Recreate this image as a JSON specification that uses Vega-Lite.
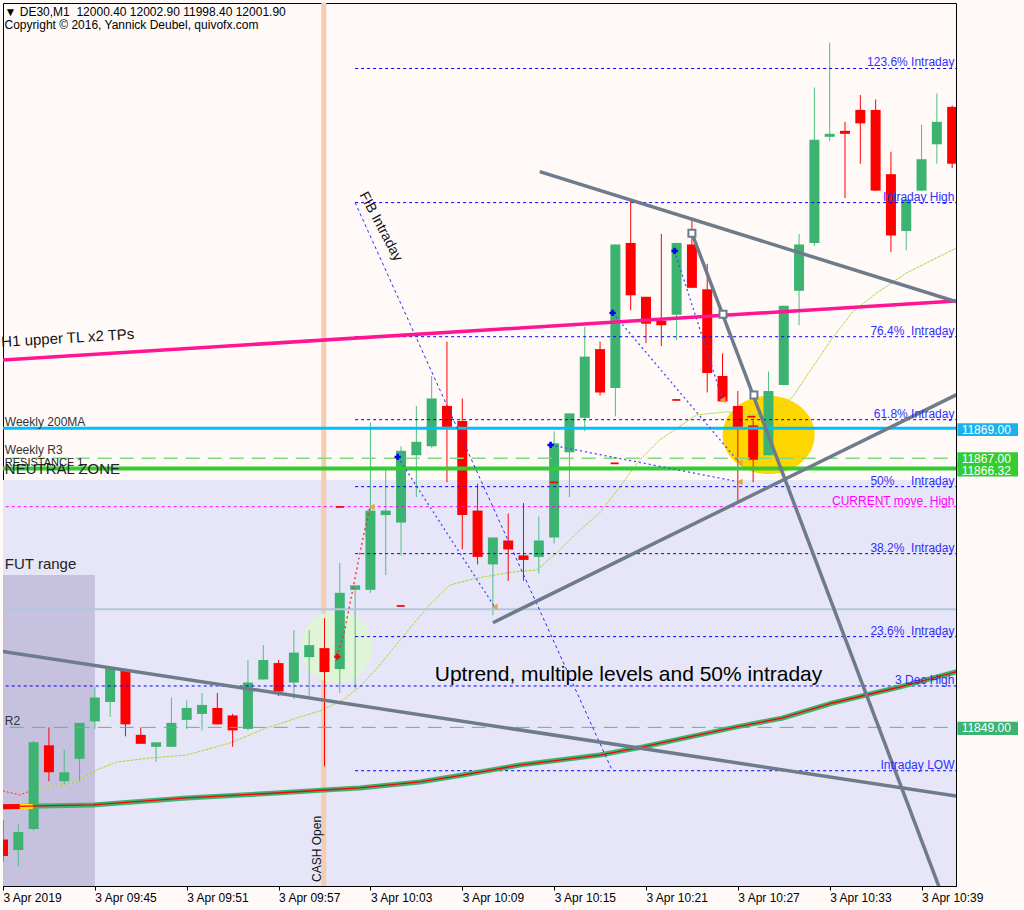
{
  "$schema": "https://vega.github.io/schema/vega-lite/v6.json",
  "width": 953,
  "height": 883,
  "autosize": {"type": "none"},
  "padding": {"left": 3, "top": 3, "right": 68, "bottom": 24},
  "background": "#FFFAF8",
  "config": {
    "view": {"stroke": "#000000", "strokeWidth": 1, "fill": "#FFFAF8"},
    "font": "Liberation Sans",
    "axis": {"labelFont": "Liberation Sans", "labelFontSize": 12, "labelColor": "#000000", "domainColor": "#000000", "tickColor": "#000000", "grid": false, "title": null}
  },
  "datasets": {
    "bg": [{"t": -1, "t2": 64, "p": 11830, "p2": 11865.55}],
    "fut": [{"t": -1, "t2": 6, "p": 11830, "p2": 11859.19}],
    "cash": [{"t": 20.95, "p": 11830, "p2": 11900}],
    "circ": [
      {"k": "g", "t": 21.8, "p": 11854.38},
      {"k": "y", "t": 50.01, "p": 11868.56}
    ],
    "candles": [
      {"t": 0, "o": 11841.5, "h": 11842.8, "l": 11840.0, "c": 11840.4},
      {"t": 1, "o": 11840.8, "h": 11842.5, "l": 11839.7, "c": 11842.0},
      {"t": 2, "o": 11842.2, "h": 11848.1, "l": 11842.1, "c": 11848.0},
      {"t": 3, "o": 11847.8, "h": 11849.0, "l": 11845.4, "c": 11846.0},
      {"t": 4, "o": 11845.4, "h": 11847.5, "l": 11845.2, "c": 11846.0},
      {"t": 5, "o": 11846.9, "h": 11849.3, "l": 11845.4, "c": 11849.3},
      {"t": 6, "o": 11849.4, "h": 11851.7, "l": 11848.9, "c": 11851.0},
      {"t": 7, "o": 11850.7, "h": 11853.0, "l": 11849.7, "c": 11853.0},
      {"t": 8, "o": 11852.8, "h": 11852.8, "l": 11848.4, "c": 11849.2},
      {"t": 9, "o": 11848.5, "h": 11849.0, "l": 11847.9, "c": 11847.9},
      {"t": 10, "o": 11847.7, "h": 11848.0, "l": 11846.7, "c": 11848.0},
      {"t": 11, "o": 11847.7, "h": 11851.0, "l": 11847.7, "c": 11849.3},
      {"t": 12, "o": 11849.5, "h": 11850.8, "l": 11848.9, "c": 11850.3},
      {"t": 13, "o": 11849.9, "h": 11851.3, "l": 11848.8, "c": 11850.5},
      {"t": 14, "o": 11850.3, "h": 11851.3, "l": 11849.2, "c": 11849.2},
      {"t": 15, "o": 11849.8, "h": 11849.9, "l": 11847.7, "c": 11848.8},
      {"t": 16, "o": 11848.9, "h": 11853.5, "l": 11848.8, "c": 11852.0},
      {"t": 17, "o": 11852.2, "h": 11854.5, "l": 11852.2, "c": 11853.5},
      {"t": 18, "o": 11853.3, "h": 11853.5, "l": 11851.1, "c": 11851.4},
      {"t": 19, "o": 11852.0, "h": 11855.5, "l": 11850.9, "c": 11854.0},
      {"t": 20, "o": 11853.7, "h": 11855.5, "l": 11851.1, "c": 11854.5},
      {"t": 21, "o": 11854.3, "h": 11856.3, "l": 11846.4, "c": 11852.7},
      {"t": 22, "o": 11852.9, "h": 11860.0, "l": 11851.3, "c": 11858.0},
      {"t": 23, "o": 11858.2, "h": 11858.5, "l": 11851.6, "c": 11858.5},
      {"t": 24, "o": 11858.2, "h": 11869.4, "l": 11858.0, "c": 11863.5},
      {"t": 25, "o": 11863.2, "h": 11866.4, "l": 11859.2, "c": 11863.5},
      {"t": 26, "o": 11862.7, "h": 11867.8, "l": 11860.5, "c": 11867.5},
      {"t": 27, "o": 11867.2, "h": 11870.5, "l": 11864.4, "c": 11868.1},
      {"t": 28, "o": 11867.8, "h": 11872.5, "l": 11867.7, "c": 11871.0},
      {"t": 29, "o": 11870.5, "h": 11874.8, "l": 11865.4, "c": 11869.1},
      {"t": 30, "o": 11869.5, "h": 11871.0, "l": 11860.9, "c": 11863.2},
      {"t": 31, "o": 11863.5, "h": 11865.3, "l": 11859.9, "c": 11860.4},
      {"t": 32, "o": 11859.9, "h": 11861.7, "l": 11856.5, "c": 11861.7},
      {"t": 33, "o": 11861.5, "h": 11863.3, "l": 11858.8, "c": 11860.9},
      {"t": 34, "o": 11860.5, "h": 11864.0, "l": 11858.8, "c": 11860.2},
      {"t": 35, "o": 11860.4, "h": 11863.1, "l": 11859.3, "c": 11861.5},
      {"t": 36, "o": 11861.7, "h": 11868.8, "l": 11861.3, "c": 11868.0},
      {"t": 37, "o": 11867.4, "h": 11870.0, "l": 11864.4, "c": 11870.0},
      {"t": 38, "o": 11869.7, "h": 11875.8, "l": 11868.8, "c": 11873.8},
      {"t": 39, "o": 11874.3, "h": 11874.8, "l": 11871.2, "c": 11871.4},
      {"t": 40, "o": 11871.7, "h": 11881.3, "l": 11869.8, "c": 11881.3},
      {"t": 41, "o": 11881.4, "h": 11884.3, "l": 11876.9, "c": 11877.9},
      {"t": 42, "o": 11877.8, "h": 11877.8, "l": 11874.7, "c": 11876.0},
      {"t": 43, "o": 11876.2, "h": 11882.0, "l": 11874.5, "c": 11875.9},
      {"t": 44, "o": 11876.6, "h": 11881.4, "l": 11874.9, "c": 11881.4},
      {"t": 45, "o": 11881.3, "h": 11883.0, "l": 11878.4, "c": 11878.4},
      {"t": 46, "o": 11878.3, "h": 11880.0, "l": 11871.4, "c": 11872.7},
      {"t": 47, "o": 11872.5, "h": 11874.0, "l": 11870.8, "c": 11870.8},
      {"t": 48, "o": 11870.5, "h": 11871.5, "l": 11864.0, "c": 11869.1},
      {"t": 49, "o": 11869.2, "h": 11869.5, "l": 11865.4, "c": 11866.9},
      {"t": 50, "o": 11867.2, "h": 11872.8, "l": 11867.2, "c": 11871.5},
      {"t": 51, "o": 11871.9, "h": 11877.2, "l": 11871.9, "c": 11877.2},
      {"t": 52, "o": 11878.2, "h": 11882.0, "l": 11875.9, "c": 11881.3},
      {"t": 53, "o": 11881.4, "h": 11891.8, "l": 11881.2, "c": 11888.3},
      {"t": 54, "o": 11888.5, "h": 11894.8, "l": 11888.2, "c": 11888.7},
      {"t": 55, "o": 11888.9, "h": 11889.5, "l": 11884.4, "c": 11888.7},
      {"t": 56, "o": 11890.3, "h": 11891.3, "l": 11886.7, "c": 11889.4},
      {"t": 57, "o": 11890.3, "h": 11891.0, "l": 11884.9, "c": 11884.9},
      {"t": 58, "o": 11886.0, "h": 11887.5, "l": 11880.8, "c": 11881.9},
      {"t": 59, "o": 11882.2, "h": 11884.3, "l": 11880.9, "c": 11884.3},
      {"t": 60, "o": 11884.9, "h": 11889.3, "l": 11884.9, "c": 11887.0},
      {"t": 61, "o": 11888.0, "h": 11891.4, "l": 11886.7, "c": 11889.5},
      {"t": 62, "o": 11890.5, "h": 11890.6, "l": 11886.4, "c": 11886.7}
    ],
    "hl": [
      {"k": "steel", "t": -1, "t2": 64, "p": 11856.90},
      {"k": "r2", "t": -1, "t2": 64, "p": 11849.00},
      {"k": "dec", "t": -1, "t2": 64, "p": 11851.77},
      {"k": "cur", "t": -1, "t2": 64, "p": 11863.76},
      {"k": "r3", "t": -1, "t2": 64, "p": 11867.00},
      {"k": "w200", "t": -1, "t2": 64, "p": 11869.00},
      {"k": "neutral", "t": -1, "t2": 64, "p": 11866.32}
    ],
    "fib": [
      {"t": 23, "t2": 64, "p": 11893.07},
      {"t": 23, "t2": 64, "p": 11884.10},
      {"t": 23, "t2": 64, "p": 11875.13},
      {"t": 23, "t2": 64, "p": 11869.58},
      {"t": 23, "t2": 64, "p": 11865.10},
      {"t": 23, "t2": 64, "p": 11860.62},
      {"t": 23, "t2": 64, "p": 11855.07},
      {"t": 23, "t2": 64, "p": 11846.10}
    ],
    "flab": [
      {"k": "b", "t": 62.15, "p": 11893.07, "label": "123.6% Intraday"},
      {"k": "b", "t": 62.15, "p": 11884.10, "label": "Intraday High"},
      {"k": "b", "t": 62.15, "p": 11875.13, "label": "76.4%\u00a0\u00a0Intraday"},
      {"k": "b", "t": 62.15, "p": 11869.58, "label": "61.8%\u00a0Intraday"},
      {"k": "b", "t": 62.15, "p": 11865.10, "label": "50%\u00a0\u00a0\u00a0\u00a0\u00a0Intraday"},
      {"k": "b", "t": 62.15, "p": 11860.62, "label": "38.2%\u00a0\u00a0Intraday"},
      {"k": "b", "t": 62.15, "p": 11855.07, "label": "23.6%\u00a0\u00a0Intraday"},
      {"k": "b", "t": 62.15, "p": 11851.77, "label": "3 Dec High"},
      {"k": "b", "t": 62.15, "p": 11846.10, "label": "Intraday LOW"},
      {"k": "m", "t": 62.15, "p": 11863.76, "label": "CURRENT move\u00a0\u00a0High"}
    ],
    "maslow": [
      {"t": -0.3, "p": 11843.69}, {"t": 5.86, "p": 11843.81}, {"t": 12.0, "p": 11844.28},
      {"t": 17.88, "p": 11844.61}, {"t": 21.0, "p": 11844.81}, {"t": 23.3, "p": 11844.95},
      {"t": 27.22, "p": 11845.35}, {"t": 30.03, "p": 11845.81}, {"t": 33.75, "p": 11846.48},
      {"t": 38.97, "p": 11847.15}, {"t": 41.78, "p": 11847.69}, {"t": 47.92, "p": 11849.03},
      {"t": 50.93, "p": 11849.63}, {"t": 54.19, "p": 11850.63}, {"t": 58.56, "p": 11851.70},
      {"t": 62.4, "p": 11852.75}
    ],
    "maslowred": [{"t": -0.3, "p": 11843.69}, {"t": 1.1, "p": 11843.70}],
    "maslowyel": [{"t": 1.1, "p": 11843.70}, {"t": 1.95, "p": 11843.71}],
    "mafastred": [{"t": 0, "p": 11844.75}, {"t": 1.09, "p": 11844.48}, {"t": 1.94, "p": 11844.81}],
    "mafast": [
      {"t": 1.94, "p": 11844.81},
      {"t": 4.82, "p": 11845.35}, {"t": 6.12, "p": 11846.15}, {"t": 7.43, "p": 11846.68},
      {"t": 9.58, "p": 11846.95}, {"t": 12.0, "p": 11847.15}, {"t": 14.81, "p": 11847.95},
      {"t": 17.22, "p": 11848.96}, {"t": 19.38, "p": 11849.69}, {"t": 20.88, "p": 11850.16},
      {"t": 22.19, "p": 11850.83}, {"t": 23.3, "p": 11851.70}, {"t": 24.6, "p": 11853.17},
      {"t": 26.1, "p": 11855.04}, {"t": 27.67, "p": 11856.98}, {"t": 29.18, "p": 11858.52},
      {"t": 30.94, "p": 11858.99}, {"t": 33.29, "p": 11859.39}, {"t": 34.86, "p": 11859.53},
      {"t": 36.17, "p": 11860.67}, {"t": 37.47, "p": 11862.00}, {"t": 38.97, "p": 11863.34},
      {"t": 40.28, "p": 11865.08}, {"t": 41.59, "p": 11866.89}, {"t": 42.89, "p": 11868.22},
      {"t": 45.31, "p": 11869.90}, {"t": 47.27, "p": 11870.10}, {"t": 48.97, "p": 11869.90},
      {"t": 50.27, "p": 11870.03}, {"t": 51.58, "p": 11871.10}, {"t": 52.89, "p": 11873.11},
      {"t": 54.19, "p": 11875.05}, {"t": 55.5, "p": 11876.79}, {"t": 57.07, "p": 11878.06},
      {"t": 59.03, "p": 11879.40}, {"t": 62.29, "p": 11881.07}
    ],
    "tl": [
      {"id": "A", "t": -0.3, "p": 11854.12}, {"id": "A", "t": 62.4, "p": 11844.38},
      {"id": "B", "t": 35.06, "p": 11886.17}, {"id": "B", "t": 62.4, "p": 11877.43},
      {"id": "C", "t": 32.0, "p": 11856.0}, {"id": "C", "t": 62.49, "p": 11871.35},
      {"id": "D", "t": 45.0, "p": 11882.05}, {"id": "D", "t": 61.2, "p": 11838.18}
    ],
    "h1": [
      {"t": -0.3, "p": 11873.56}, {"t": 62.4, "p": 11877.53}
    ],
    "dots": [
      {"id": "L1", "t": 25.78, "p": 11867.09}, {"id": "L1", "t": 32.12, "p": 11857.05},
      {"id": "L3", "t": 35.77, "p": 11867.89}, {"id": "L3", "t": 48.12, "p": 11865.41},
      {"id": "L4", "t": 39.82, "p": 11876.72}, {"id": "L4", "t": 48.12, "p": 11866.68},
      {"id": "L5", "t": 43.87, "p": 11880.87}, {"id": "L5", "t": 47.01, "p": 11870.90}
    ],
    "fibdiag": [
      {"t": 23.0, "p": 11884.10}, {"t": 39.8, "p": 11846.10}
    ],
    "reddot": [
      {"t": 21.80, "p": 11853.71}, {"t": 22.32, "p": 11855.51}, {"t": 22.84, "p": 11858.19},
      {"t": 23.49, "p": 11861.54}, {"t": 23.95, "p": 11863.67}
    ],
    "mk": [
      {"k": "star", "t": 25.78, "p": 11867.09}, {"k": "star", "t": 35.77, "p": 11867.89},
      {"k": "star", "t": 39.82, "p": 11876.72}, {"k": "star", "t": 43.87, "p": 11880.87},
      {"k": "rstar", "t": 21.84, "p": 11853.73},
      {"k": "tri", "t": 24.08, "p": 11863.74}, {"k": "tri", "t": 32.12, "p": 11857.05},
      {"k": "tri", "t": 47.01, "p": 11870.90}, {"k": "tri", "t": 48.12, "p": 11866.68},
      {"k": "tri", "t": 48.12, "p": 11865.41},
      {"k": "sq", "t": 45.0, "p": 11882.05}, {"k": "sq", "t": 47.03, "p": 11876.63},
      {"k": "sq", "t": 49.05, "p": 11871.23},
      {"k": "dash", "t": 22.0, "p": 11863.74}, {"k": "dash", "t": 25.98, "p": 11857.12},
      {"k": "dash", "t": 35.99, "p": 11865.39}, {"k": "dash", "t": 39.95, "p": 11866.66},
      {"k": "dash", "t": 43.98, "p": 11870.90}, {"k": "dash", "t": 48.88, "p": 11869.78}
    ],
    "txt": [
      {"k": "hdr", "t": 0.1, "p": 11896.85, "label": "\u25bc DE30,M1\u00a0\u00a012000.40 12002.90 11998.40 12001.90"},
      {"k": "hdr", "t": 0.1, "p": 11895.98, "label": "Copyright \u00a9 2016, Yannick Deubel, quivofx.com"},
      {"k": "small", "t": 0.12, "p": 11869.45, "label": "Weekly 200MA"},
      {"k": "small", "t": 0.12, "p": 11867.58, "label": "Weekly R3"},
      {"k": "small", "t": 0.12, "p": 11849.43, "label": "R2"},
      {"k": "res", "t": 0.12, "p": 11866.68, "label": "RESISTANCE 1"},
      {"k": "big", "t": 0.12, "p": 11866.28, "label": "NEUTRAL ZONE"},
      {"k": "big", "t": 0.12, "p": 11859.93, "label": "FUT range"},
      {"k": "h1", "t": 4.23, "p": 11875.05, "label": "H1 upper TL x2 TPs"},
      {"k": "up", "t": 28.2, "p": 11852.50, "label": "Uptrend, multiple levels and 50% intraday"},
      {"k": "cash", "t": 20.52, "p": 11838.66, "label": "CASH Open"},
      {"k": "fib", "t": 23.5, "p": 11884.75, "label": "FIB Intraday"}
    ],
    "box": [
      {"k": "c", "t": 62.34, "t2": 66.3, "p": 11868.49, "p2": 11869.34},
      {"k": "g", "t": 62.34, "t2": 66.3, "p": 11866.45, "p2": 11867.40},
      {"k": "g", "t": 62.34, "t2": 66.3, "p": 11865.78, "p2": 11866.75},
      {"k": "s", "t": 62.34, "t2": 66.3, "p": 11848.49, "p2": 11849.38}
    ],
    "boxlab": [
      {"t": 62.62, "p": 11868.88, "label": "11869.00"},
      {"t": 62.62, "p": 11866.93, "label": "11867.00"},
      {"t": 62.62, "p": 11866.12, "label": "11866.32"},
      {"t": 62.62, "p": 11848.94, "label": "11849.00"}
    ]
  },
  "encoding": {
    "x": {
      "field": "t", "type": "quantitative",
      "scale": {"domain": [0, 62.25], "nice": false, "zero": false, "padding": 0},
      "axis": {
        "orient": "bottom", "values": [0, 6, 12, 18, 24, 30, 36, 42, 48, 54, 60],
        "labelExpr": "datum.value == 0 ? '3 Apr 2019' : '3 Apr ' + timeFormat(datetime(2019, 3, 3, 9, 39 + datum.value), '%H:%M')",
        "labelAlign": "left", "labelBaseline": "top", "labelPadding": 2, "tickSize": 4,
        "labelOverlap": false, "labelFlush": false, "labelBound": false, "title": null
      }
    },
    "y": {
      "field": "p", "type": "quantitative",
      "scale": {"domain": [11838.39, 11897.45], "nice": false, "zero": false, "padding": 0},
      "axis": {
        "orient": "right",
        "values": [11896.05, 11892.90, 11889.75, 11886.60, 11883.50, 11880.35, 11877.20, 11874.05, 11870.90, 11867.75, 11864.60, 11861.50, 11858.35, 11855.20, 11852.05, 11845.75, 11842.60, 11839.50],
        "format": ".2f", "labelPadding": 3, "tickSize": 4, "labelOverlap": false, "labelBound": false, "labelFlush": false, "title": null
      }
    }
  },
  "layer": [
    {"data": {"name": "bg"}, "mark": {"type": "rect", "color": "#E6E6F8", "clip": true},
     "encoding": {"x2": {"field": "t2"}, "y2": {"field": "p2"}}},
    {"data": {"name": "fut"}, "mark": {"type": "rect", "color": "#C5C1DE", "clip": true},
     "encoding": {"x2": {"field": "t2"}, "y2": {"field": "p2"}}},
    {"data": {"name": "cash"}, "mark": {"type": "rule", "color": "#F6CDAE", "strokeWidth": 5, "clip": true},
     "encoding": {"y2": {"field": "p2"}}},
    {"data": {"name": "circ"}, "transform": [{"filter": "datum.k == 'g'"}],
     "mark": {"type": "point", "shape": "circle", "filled": true, "size": 5184, "color": "#E0F4D8", "opacity": 1, "strokeWidth": 0},
     "encoding": {}},
    {"data": {"name": "circ"}, "transform": [{"filter": "datum.k == 'y'"}],
     "mark": {"type": "point", "shape": "M-1,0A1,0.85,0,1,1,1,0A1,0.85,0,1,1,-1,0Z", "filled": true, "size": 8464, "color": "#FFD700", "opacity": 1, "strokeWidth": 0},
     "encoding": {}},
    {"data": {"name": "mafastred"}, "mark": {"type": "line", "color": "#FF3030", "strokeWidth": 1, "strokeDash": [2, 2], "clip": true},
     "encoding": {}},
    {"data": {"name": "mafast"}, "mark": {"type": "line", "color": "#7FCF9A", "strokeWidth": 1, "strokeDash": [2, 2], "clip": true},
     "encoding": {}},
    {"data": {"name": "mafast"}, "mark": {"type": "line", "color": "#E8E826", "strokeWidth": 1, "strokeDash": [2, 2], "strokeDashOffset": 2, "clip": true},
     "encoding": {}},
    {"data": {"name": "candles"}, "mark": {"type": "rule", "strokeWidth": 1, "clip": true},
     "encoding": {
       "y": {"field": "l", "type": "quantitative", "axis": null, "scale": {"domain": [11838.39, 11897.45], "nice": false, "zero": false, "padding": 0}},
       "y2": {"field": "h"},
       "color": {"condition": {"test": "datum.c >= datum.o", "value": "#4DBF80"}, "value": "#FF0000"}
     }},
    {"data": {"name": "candles"}, "mark": {"type": "bar", "orient": "vertical", "width": 10, "clip": true},
     "encoding": {
       "y": {"field": "o", "type": "quantitative", "axis": null, "scale": {"domain": [11838.39, 11897.45], "nice": false, "zero": false, "padding": 0}},
       "y2": {"field": "c"},
       "color": {"condition": {"test": "datum.c >= datum.o", "value": "#3CB371"}, "value": "#FF0000"}
     }},
    {"data": {"name": "hl"}, "transform": [{"filter": "datum.k == 'steel'"}],
     "mark": {"type": "rule", "color": "#B4C6DE", "strokeWidth": 2, "clip": true}, "encoding": {"x2": {"field": "t2"}}},
    {"data": {"name": "hl"}, "transform": [{"filter": "datum.k == 'r2'"}],
     "mark": {"type": "rule", "color": "#5CB882", "strokeWidth": 1, "strokeDash": [14, 8], "clip": true}, "encoding": {"x2": {"field": "t2"}}},
    {"data": {"name": "hl"}, "transform": [{"filter": "datum.k == 'r3'"}],
     "mark": {"type": "rule", "color": "#7EDB7E", "strokeWidth": 1.5, "strokeDash": [14, 8], "clip": true}, "encoding": {"x2": {"field": "t2"}}},
    {"data": {"name": "hl"}, "transform": [{"filter": "datum.k == 'dec'"}],
     "mark": {"type": "rule", "color": "#0000FF", "strokeWidth": 1, "strokeDash": [3, 3], "clip": true}, "encoding": {"x2": {"field": "t2"}}},
    {"data": {"name": "hl"}, "transform": [{"filter": "datum.k == 'cur'"}],
     "mark": {"type": "rule", "color": "#FF00FF", "strokeWidth": 1, "strokeDash": [3, 3], "clip": true}, "encoding": {"x2": {"field": "t2"}}},
    {"data": {"name": "fib"},
     "mark": {"type": "rule", "color": "#0000FF", "strokeWidth": 1, "strokeDash": [3, 3], "clip": true}, "encoding": {"x2": {"field": "t2"}}},
    {"data": {"name": "hl"}, "transform": [{"filter": "datum.k == 'w200'"}],
     "mark": {"type": "rule", "color": "#00BFFF", "strokeWidth": 3, "clip": true}, "encoding": {"x2": {"field": "t2"}}},
    {"data": {"name": "hl"}, "transform": [{"filter": "datum.k == 'neutral'"}],
     "mark": {"type": "rule", "color": "#33CC33", "strokeWidth": 4, "clip": true}, "encoding": {"x2": {"field": "t2"}}},
    {"data": {"name": "maslow"}, "mark": {"type": "line", "color": "#3CB371", "strokeWidth": 5, "clip": true}, "encoding": {}},
    {"data": {"name": "maslowred"}, "mark": {"type": "line", "color": "#FF0000", "strokeWidth": 5, "clip": true}, "encoding": {}},
    {"data": {"name": "maslowyel"}, "mark": {"type": "line", "color": "#FFE000", "strokeWidth": 5, "clip": true}, "encoding": {}},
    {"data": {"name": "maslow"}, "mark": {"type": "line", "color": "#FF0000", "strokeWidth": 1.3, "clip": true}, "encoding": {}},
    {"data": {"name": "fibdiag"}, "mark": {"type": "line", "color": "#2A2AFF", "strokeWidth": 1, "strokeDash": [3, 3], "clip": true}, "encoding": {}},
    {"data": {"name": "dots"}, "mark": {"type": "line", "color": "#4646FF", "strokeWidth": 1.3, "strokeDash": [2, 3], "clip": true},
     "encoding": {"detail": {"field": "id"}}},
    {"data": {"name": "reddot"}, "mark": {"type": "line", "color": "#FF2020", "strokeWidth": 1.3, "strokeDash": [2, 3], "clip": true}, "encoding": {}},
    {"data": {"name": "h1"}, "mark": {"type": "line", "color": "#FF1493", "strokeWidth": 3.5, "clip": true}, "encoding": {}},
    {"data": {"name": "tl"}, "mark": {"type": "line", "color": "#6E7B8B", "strokeWidth": 3.5, "clip": true},
     "encoding": {"detail": {"field": "id"}}},
    {"data": {"name": "mk"}, "transform": [{"filter": "datum.k == 'sq'"}],
     "mark": {"type": "point", "shape": "square", "size": 49, "fill": "#FFFFFF", "filled": false, "stroke": "#6E7B8B", "strokeWidth": 2, "opacity": 1},
     "encoding": {}},
    {"data": {"name": "mk"}, "transform": [{"filter": "datum.k == 'star'"}],
     "mark": {"type": "point", "shape": "cross", "size": 40, "filled": true, "color": "#0000FF", "opacity": 1},
     "encoding": {}},
    {"data": {"name": "mk"}, "transform": [{"filter": "datum.k == 'rstar'"}],
     "mark": {"type": "point", "shape": "cross", "size": 40, "filled": true, "color": "#FF0000", "opacity": 1},
     "encoding": {}},
    {"data": {"name": "mk"}, "transform": [{"filter": "datum.k == 'tri'"}],
     "mark": {"type": "point", "shape": "triangle-left", "size": 45, "filled": true, "color": "#E2A43C", "opacity": 1},
     "encoding": {}},
    {"data": {"name": "mk"}, "transform": [{"filter": "datum.k == 'dash'"}],
     "mark": {"type": "point", "shape": "M-1,-0.22L1,-0.22L1,0.22L-1,0.22Z", "size": 64, "filled": true, "color": "#FF0000", "opacity": 1},
     "encoding": {}},
    {"data": {"name": "flab"}, "transform": [{"filter": "datum.k == 'b'"}],
     "mark": {"type": "text", "align": "right", "baseline": "alphabetic", "dy": -2, "fontSize": 12, "color": "#3030FF"},
     "encoding": {"text": {"field": "label"}}},
    {"data": {"name": "flab"}, "transform": [{"filter": "datum.k == 'm'"}],
     "mark": {"type": "text", "align": "right", "baseline": "alphabetic", "dy": -2, "fontSize": 12, "color": "#FF00FF"},
     "encoding": {"text": {"field": "label"}}},
    {"data": {"name": "txt"}, "transform": [{"filter": "datum.k == 'hdr'"}],
     "mark": {"type": "text", "align": "left", "baseline": "middle", "fontSize": 12, "color": "#000000"},
     "encoding": {"text": {"field": "label"}}},
    {"data": {"name": "txt"}, "transform": [{"filter": "datum.k == 'small'"}],
     "mark": {"type": "text", "align": "left", "baseline": "middle", "fontSize": 12, "color": "#333333"},
     "encoding": {"text": {"field": "label"}}},
    {"data": {"name": "txt"}, "transform": [{"filter": "datum.k == 'res'"}],
     "mark": {"type": "text", "align": "left", "baseline": "middle", "fontSize": 11, "color": "#222222"},
     "encoding": {"text": {"field": "label"}}},
    {"data": {"name": "txt"}, "transform": [{"filter": "datum.k == 'big'"}],
     "mark": {"type": "text", "align": "left", "baseline": "middle", "fontSize": 15, "color": "#222222"},
     "encoding": {"text": {"field": "label"}}},
    {"data": {"name": "txt"}, "transform": [{"filter": "datum.k == 'h1'"}],
     "mark": {"type": "text", "align": "center", "baseline": "middle", "fontSize": 15, "angle": 356.5, "color": "#111111"},
     "encoding": {"text": {"field": "label"}}},
    {"data": {"name": "txt"}, "transform": [{"filter": "datum.k == 'up'"}],
     "mark": {"type": "text", "align": "left", "baseline": "middle", "fontSize": 21, "color": "#000000"},
     "encoding": {"text": {"field": "label"}}},
    {"data": {"name": "txt"}, "transform": [{"filter": "datum.k == 'cash'"}],
     "mark": {"type": "text", "align": "left", "baseline": "middle", "fontSize": 12, "angle": 270, "color": "#111111"},
     "encoding": {"text": {"field": "label"}}},
    {"data": {"name": "txt"}, "transform": [{"filter": "datum.k == 'fib'"}],
     "mark": {"type": "text", "align": "left", "baseline": "middle", "fontSize": 14, "angle": 62, "color": "#111111"},
     "encoding": {"text": {"field": "label"}}},
    {"data": {"name": "box"}, "mark": {"type": "rect", "clip": false},
     "encoding": {
       "x2": {"field": "t2"}, "y2": {"field": "p2"},
       "color": {"field": "k", "type": "nominal", "legend": null, "scale": {"domain": ["c", "g", "s"], "range": ["#1AB2EE", "#33CC33", "#3CB371"]}}
     }},
    {"data": {"name": "boxlab"}, "mark": {"type": "text", "align": "left", "baseline": "middle", "fontSize": 12, "color": "#FFFFFF", "clip": false},
     "encoding": {"text": {"field": "label"}}}
  ]
}
